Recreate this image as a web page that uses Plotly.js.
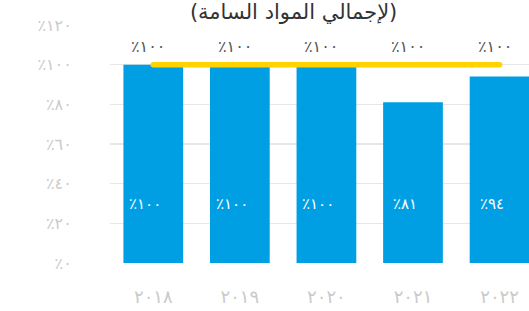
<!DOCTYPE html>
<html><head><meta charset="utf-8">
<script src="https://cdn.plot.ly/plotly-3.0.1.min.js"></script>
<style>html,body{margin:0;padding:0;background:#fff;}#chart{width:529px;height:311px;}#chart .scatterlayer path.js-line{stroke-linecap:round;}</style>
</head><body><div id="chart"></div>
<script>
const years = ['٢٠١٨','٢٠١٩','٢٠٢٠','٢٠٢١','٢٠٢٢'];
const values = [100, 100, 100, 81, 94];
const valueLabels = ['٪١٠٠','٪١٠٠','٪١٠٠','٪٨١','٪٩٤'];
const targetValues = [100, 100, 100, 100, 100];
const targetLabels = ['٪١٠٠','٪١٠٠','٪١٠٠','٪١٠٠','٪١٠٠'];
const yTickVals = [0, 20, 40, 60, 80, 100, 120];
const yTickText = ['٪٠','٪٢٠','٪٤٠','٪٦٠','٪٨٠','٪١٠٠','٪١٢٠'];
const titleText = '(لإجمالي المواد السامة)';

const FONT = 'DejaVu Sans, Noto Sans, sans-serif';
const idx = years.map((_, i) => i);
const labelY = 30;

const traces = [
  {type:'bar', x: idx, y: values, marker:{color:'#009FE3'}, width:0.69, hoverinfo:'none'},
  {type:'scatter', mode:'lines', x: idx, y: targetValues,
   line:{color:'#FFD200', width:5.5}, hoverinfo:'none'}
];

const annotations = idx.map(i => ({
  x: i, y: labelY, xref:'x', yref:'y', text: valueLabels[i], showarrow:false,
  xshift:-8, font:{family:FONT, size:15, color:'#fff'}
})).concat(idx.map(i => ({
  x: i, y: targetValues[i], xref:'x', yref:'y', text: targetLabels[i], showarrow:false,
  xshift:-5, yshift:18, yanchor:'middle', font:{family:FONT, size:16, color:'#555'}
})));

const layout = {
  width:529, height:311,
  margin:{l:110, r:0, t:25, b:48},
  paper_bgcolor:'#fff', plot_bgcolor:'#fff',
  showlegend:false,
  title:{text:titleText, font:{family:FONT, size:21, color:'#333'}, x:0.555, xanchor:'center', y:0.985, yref:'container', yanchor:'top', pad:{t:0,b:0}},
  xaxis:{tickvals: idx, ticktext: years, range:[-0.5, 4.34], showgrid:false, zeroline:false,
    ticks:'outside', ticklen:17, tickcolor:'rgba(0,0,0,0)', showline:false,
    tickfont:{family:FONT, size:18, color:'#cacaca'}, fixedrange:true},
  yaxis:{tickvals: yTickVals, ticktext: yTickText, range:[0,120], showgrid:true, gridcolor:'#e6e6e6', gridwidth:1.5,
    zeroline:false, ticks:'outside', ticklen:34, tickcolor:'rgba(0,0,0,0)',
    tickfont:{family:FONT, size:16, color:'#cacaca'}, fixedrange:true},
  annotations: annotations,
  bargap:0.31
};

Plotly.newPlot('chart', traces, layout, {displayModeBar:false, staticPlot:true});
</script>
</body></html>
